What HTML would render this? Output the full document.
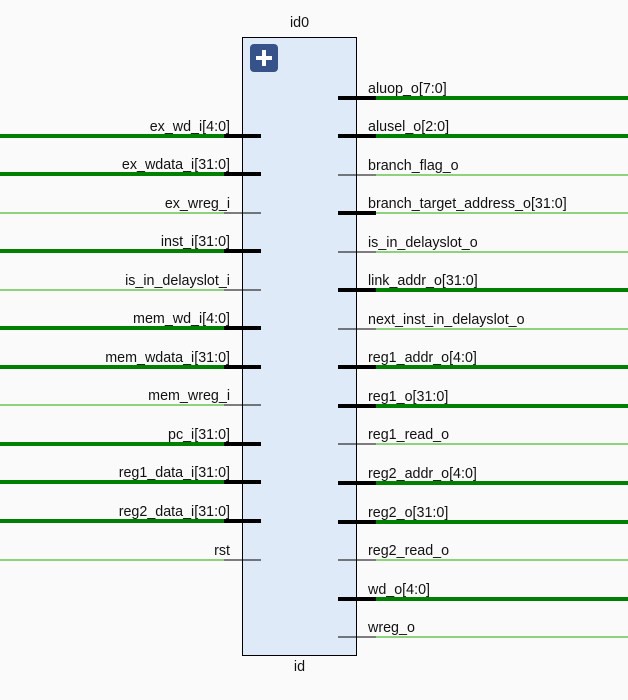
<!DOCTYPE html>
<html><head><style>
body{margin:0;background:#fafafa;}
svg text{font-family:"Liberation Sans",sans-serif;font-size:14.3px;fill:#111;}
</style></head><body>
<svg width="628" height="695" xmlns="http://www.w3.org/2000/svg">
<rect x="242.5" y="37.5" width="114" height="618" fill="#dfeaf8" stroke="#000" stroke-width="1"/>
<text x="299.5" y="27" text-anchor="middle">id0</text>
<text x="299.5" y="671" text-anchor="middle">id</text>
<rect x="250" y="44" width="28" height="28" rx="4" fill="#35538a"/>
<rect x="256" y="56" width="16" height="4" fill="#fff"/>
<rect x="262" y="50" width="4" height="16" fill="#fff"/>

<g fill="#008000">
<rect x="0" y="134" width="224" height="4"/>
<rect x="0" y="172" width="224" height="4"/>
<rect x="0" y="249" width="224" height="4"/>
<rect x="0" y="326" width="224" height="4"/>
<rect x="0" y="365" width="224" height="4"/>
<rect x="0" y="442" width="224" height="4"/>
<rect x="0" y="480" width="224" height="4"/>
<rect x="0" y="519" width="224" height="4"/>
</g>
<g fill="#000">
<rect x="224" y="134" width="37" height="4"/>
<rect x="224" y="172" width="37" height="4"/>
<rect x="224" y="249" width="37" height="4"/>
<rect x="224" y="326" width="37" height="4"/>
<rect x="224" y="365" width="37" height="4"/>
<rect x="224" y="442" width="37" height="4"/>
<rect x="224" y="480" width="37" height="4"/>
<rect x="224" y="519" width="37" height="4"/>
</g>
<g fill="#22aa00">
<rect x="0" y="212.5" width="224" height="1"/>
<rect x="0" y="289.5" width="224" height="1"/>
<rect x="0" y="404.5" width="224" height="1"/>
<rect x="0" y="559.5" width="224" height="1"/>
</g>
<g fill="#000">
<rect x="224" y="212.5" width="37" height="1"/>
<rect x="224" y="289.5" width="37" height="1"/>
<rect x="224" y="404.5" width="37" height="1"/>
<rect x="224" y="559.5" width="37" height="1"/>
</g>
<text x="230" y="131" text-anchor="end">ex_wd_i[4:0]</text>
<text x="230" y="169" text-anchor="end">ex_wdata_i[31:0]</text>
<text x="230" y="208" text-anchor="end">ex_wreg_i</text>
<text x="230" y="246" text-anchor="end">inst_i[31:0]</text>
<text x="230" y="285" text-anchor="end">is_in_delayslot_i</text>
<text x="230" y="323" text-anchor="end">mem_wd_i[4:0]</text>
<text x="230" y="362" text-anchor="end">mem_wdata_i[31:0]</text>
<text x="230" y="400" text-anchor="end">mem_wreg_i</text>
<text x="230" y="439" text-anchor="end">pc_i[31:0]</text>
<text x="230" y="477" text-anchor="end">reg1_data_i[31:0]</text>
<text x="230" y="516" text-anchor="end">reg2_data_i[31:0]</text>
<text x="230" y="555" text-anchor="end">rst</text>

<g fill="#000">
<rect x="338" y="96" width="38" height="4"/>
<rect x="338" y="134" width="38" height="4"/>
<rect x="338" y="211" width="38" height="4"/>
<rect x="338" y="288" width="38" height="4"/>
<rect x="338" y="365" width="38" height="4"/>
<rect x="338" y="404" width="38" height="4"/>
<rect x="338" y="481" width="38" height="4"/>
<rect x="338" y="520" width="38" height="4"/>
<rect x="338" y="597" width="38" height="4"/>
<rect x="338" y="174.5" width="38" height="1"/>
<rect x="338" y="251.5" width="38" height="1"/>
<rect x="338" y="328.5" width="38" height="1"/>
<rect x="338" y="443.5" width="38" height="1"/>
<rect x="338" y="559.5" width="38" height="1"/>
<rect x="338" y="636.5" width="38" height="1"/>
</g>
<g fill="#008000">
<rect x="376" y="96" width="252" height="4"/>
<rect x="376" y="134" width="252" height="4"/>
<rect x="376" y="288" width="252" height="4"/>
<rect x="376" y="365" width="252" height="4"/>
<rect x="376" y="404" width="252" height="4"/>
<rect x="376" y="481" width="252" height="4"/>
<rect x="376" y="520" width="252" height="4"/>
<rect x="376" y="597" width="252" height="4"/>
</g>
<g fill="#22aa00">
<rect x="376" y="174.5" width="252" height="1"/>
<rect x="376" y="212.5" width="252" height="1"/>
<rect x="376" y="251.5" width="252" height="1"/>
<rect x="376" y="328.5" width="252" height="1"/>
<rect x="376" y="443.5" width="252" height="1"/>
<rect x="376" y="559.5" width="252" height="1"/>
<rect x="376" y="636.5" width="252" height="1"/>
</g>
<text x="368" y="93">aluop_o[7:0]</text>
<text x="368" y="131">alusel_o[2:0]</text>
<text x="368" y="170">branch_flag_o</text>
<text x="368" y="208">branch_target_address_o[31:0]</text>
<text x="368" y="247">is_in_delayslot_o</text>
<text x="368" y="285">link_addr_o[31:0]</text>
<text x="368" y="324">next_inst_in_delayslot_o</text>
<text x="368" y="362">reg1_addr_o[4:0]</text>
<text x="368" y="401">reg1_o[31:0]</text>
<text x="368" y="439">reg1_read_o</text>
<text x="368" y="478">reg2_addr_o[4:0]</text>
<text x="368" y="517">reg2_o[31:0]</text>
<text x="368" y="555">reg2_read_o</text>
<text x="368" y="594">wd_o[4:0]</text>
<text x="368" y="632">wreg_o</text>
</svg>
</body></html>
